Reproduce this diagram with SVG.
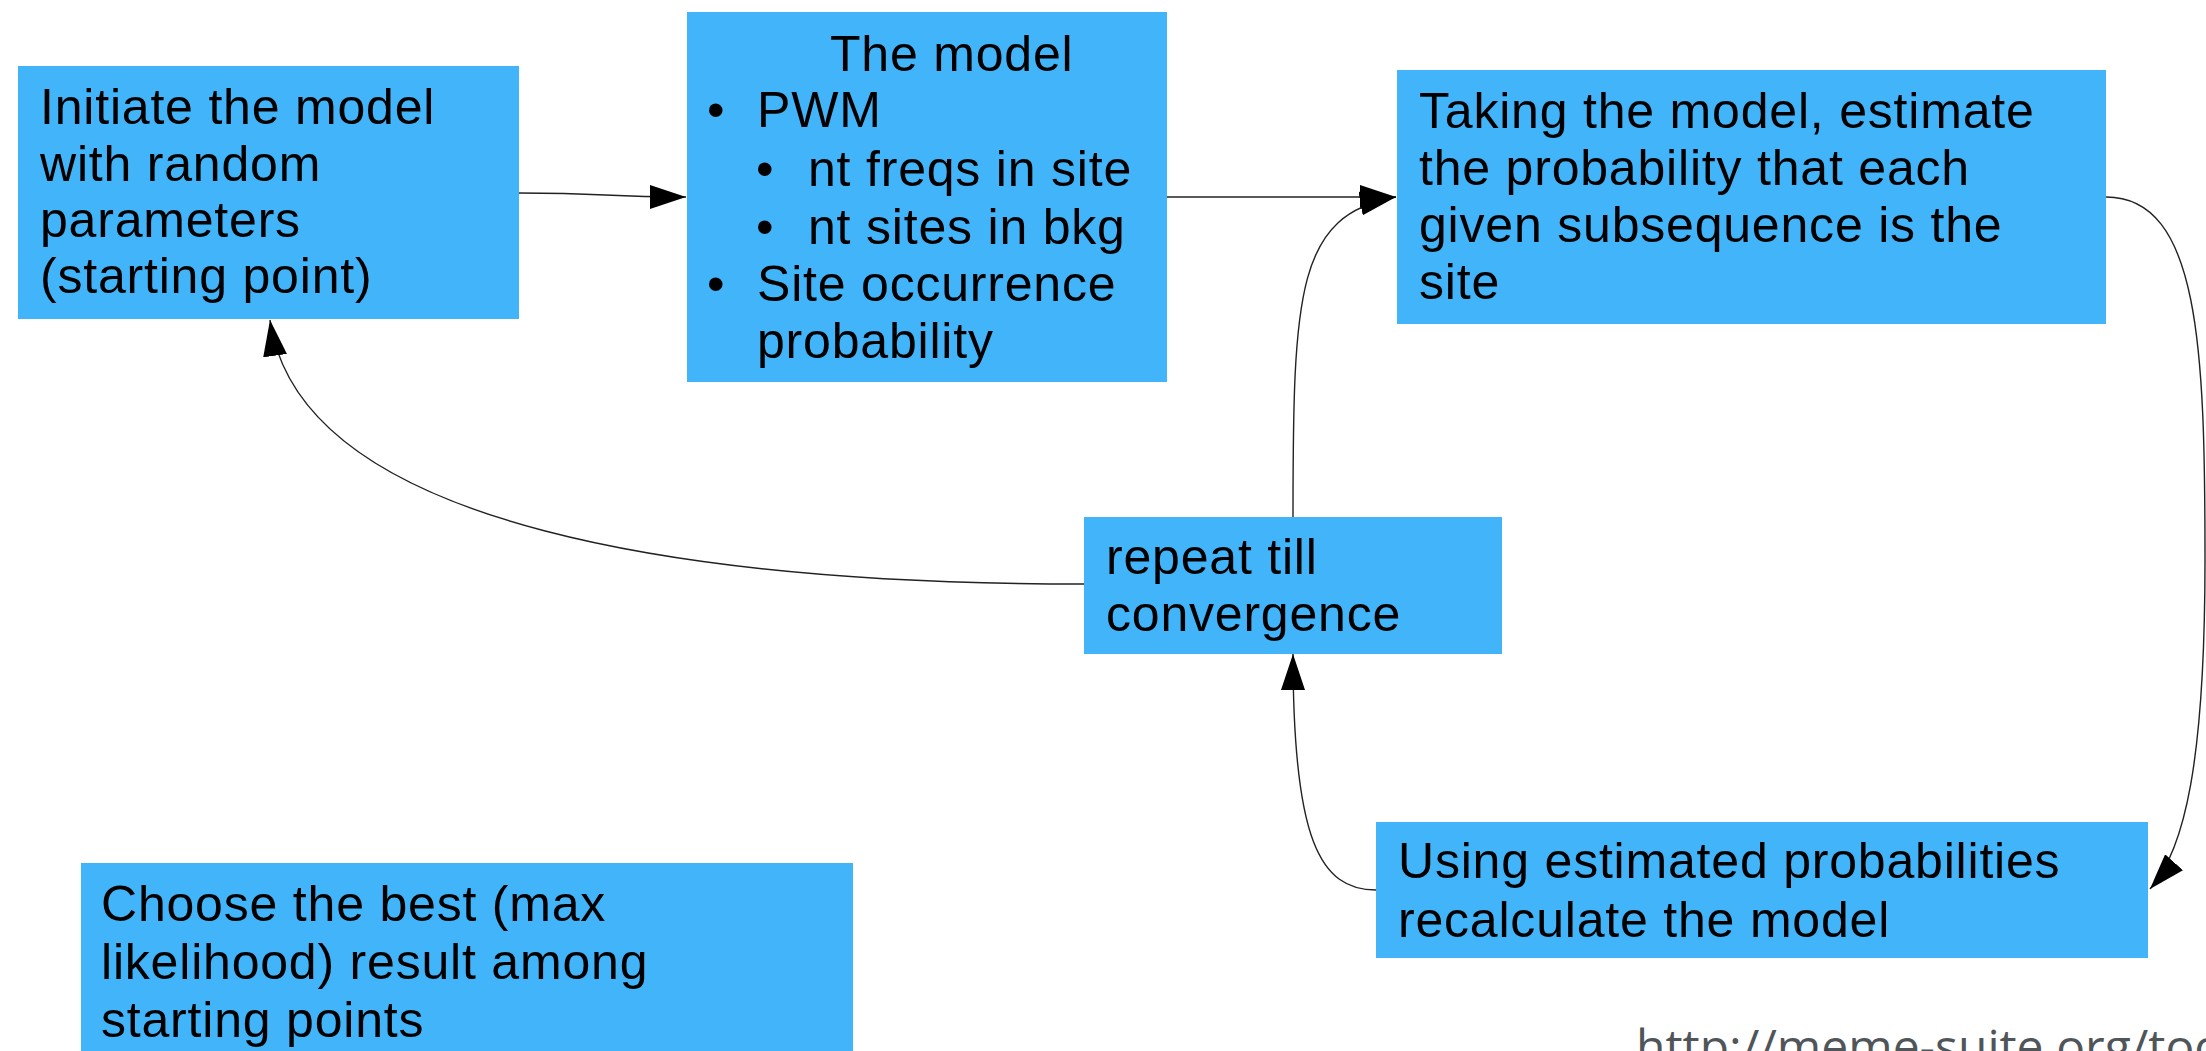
<svg xmlns="http://www.w3.org/2000/svg" width="2206" height="1051" viewBox="0 0 2206 1051">
<style>
.box{fill:#42b4f9;}
.t{font-family:"Liberation Sans",Arial,sans-serif;font-size:50px;letter-spacing:0.8px;fill:#000;}
.c{fill:none;stroke:#222;stroke-width:1.4;}
.url{font-family:"Open Sans","DejaVu Sans",sans-serif;font-size:48px;fill:#50555a;}
</style>
<defs>
<marker id="ah" markerUnits="userSpaceOnUse" markerWidth="38" markerHeight="26" refX="36" refY="12" orient="auto" viewBox="0 0 38 26">
<path d="M0,0 L36,12 L0,24 z" fill="#000"/>
</marker>
</defs>
<rect width="2206" height="1051" fill="#fff"/>
<g id="connectors">
<path class="c" d="M519,193 C610,193 600,197 686,197" marker-end="url(#ah)"/>
<path class="c" d="M1167,197 L1396,197" marker-end="url(#ah)"/>
<path class="c" d="M1293,517 C1293,290 1297,215 1396,197" marker-end="url(#ah)"/>
<path class="c" d="M2106,197 C2200,197 2205,350 2205,560 C2205,760 2185,850 2150,889" marker-end="url(#ah)"/>
<path class="c" d="M1376,890 C1320,890 1293,840 1293,654" marker-end="url(#ah)"/>
<path class="c" d="M1084,584 C700,584 300,530 270,320" marker-end="url(#ah)"/>
</g>
<g id="n1">
<rect class="box" x="18" y="66" width="501" height="253"/>
<text class="t" x="40" y="124">Initiate the model</text>
<text class="t" x="40" y="180.5">with random</text>
<text class="t" x="40" y="237">parameters</text>
<text class="t" x="40" y="293">(starting point)</text>
</g>
<g id="n2">
<rect class="box" x="687" y="12" width="480" height="370"/>
<text class="t" x="830" y="71">The model</text>
<text class="t" x="707" y="127">•</text>
<text class="t" x="757" y="127">PWM</text>
<text class="t" x="756" y="186">•</text>
<text class="t" x="808" y="186">nt freqs in site</text>
<text class="t" x="756" y="244">•</text>
<text class="t" x="808" y="244">nt sites in bkg</text>
<text class="t" x="707" y="301">•</text>
<text class="t" x="757" y="301">Site occurrence</text>
<text class="t" x="757" y="358">probability</text>
</g>
<g id="n3">
<rect class="box" x="1397" y="70" width="709" height="254"/>
<text class="t" x="1419" y="128">Taking the model, estimate</text>
<text class="t" x="1419" y="185">the probability that each</text>
<text class="t" x="1419" y="242">given subsequence is the</text>
<text class="t" x="1419" y="299">site</text>
</g>
<g id="n4">
<rect class="box" x="1084" y="517" width="418" height="137"/>
<text class="t" x="1106" y="574">repeat till</text>
<text class="t" x="1106" y="631">convergence</text>
</g>
<g id="n5">
<rect class="box" x="1376" y="822" width="772" height="136"/>
<text class="t" x="1398" y="878">Using estimated probabilities</text>
<text class="t" x="1398" y="937">recalculate the model</text>
</g>
<g id="n6">
<rect class="box" x="81" y="863" width="772" height="200"/>
<text class="t" x="101" y="921">Choose the best (max</text>
<text class="t" x="101" y="979">likelihood) result among</text>
<text class="t" x="101" y="1037">starting points</text>
</g>
<text class="url" x="1636" y="1064">http://meme-suite.org/too</text>
</svg>
